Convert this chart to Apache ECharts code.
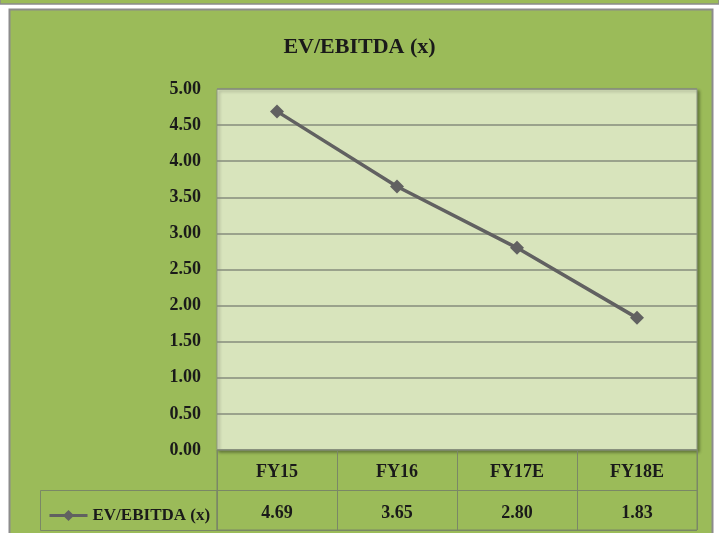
<!DOCTYPE html>
<html><head><meta charset="utf-8">
<script src="https://cdn.jsdelivr.net/npm/echarts@6/dist/echarts.min.js"></script>
<style>html,body{margin:0;padding:0;background:#fff}#c{width:719px;height:533px}</style>
</head><body><div id="c"></div>
<script>
const categories = ['FY15', 'FY16', 'FY17E', 'FY18E'];
const evEbitda = [4.69, 3.65, 2.80, 1.83];
const seriesName = 'EV/EBITDA (x)';
const chartTitle = 'EV/EBITDA (x)';

const FONT = '"Liberation Serif", "Times New Roman", serif';
const TXT = '#1a1a1a';
const LINEC = '#7a8766';
const chart = echarts.init(document.getElementById('c'));
chart.setOption({
  backgroundColor: '#ffffff',
  animation: false,
  graphic: [
    {type: 'rect', z: -10, shape: {x: 0, y: -6, width: 719, height: 10}, style: {fill: '#9bbb59', stroke: '#8c8c8c', lineWidth: 1.5}},
    {type: 'rect', z: -10, shape: {x: 9.5, y: 9.5, width: 703, height: 540}, style: {fill: '#9bbb59', stroke: '#8c8c8c', lineWidth: 2}},
    {type: 'rect', z: 5, shape: {x: 40.5, y: 490.5, width: 176.5, height: 40}, style: {fill: 'none', stroke: LINEC, lineWidth: 1}}
  ],
  title: {
    text: chartTitle, left: 'center', top: 31,
    textStyle: {fontFamily: FONT, fontWeight: 'bold', fontSize: 22, color: TXT}
  },
  legend: {
    left: 43, top: 502, itemWidth: 38, itemHeight: 14, itemGap: 4,
    textStyle: {fontFamily: FONT, fontWeight: 'bold', fontSize: 17, color: TXT},
    data: [{name: seriesName, lineStyle: {width: 3}}]
  },
  grid: [
    {left: 217, right: 22, top: 89, bottom: 83, show: true, backgroundColor: '#d8e4bc',
     borderColor: '#8f9686', borderWidth: 1,
     shadowColor: 'rgba(0,0,0,0.35)', shadowBlur: 3, shadowOffsetX: 2, shadowOffsetY: 2},
    {left: 217, right: 22, top: 450, height: 80, show: true, backgroundColor: 'transparent',
     borderColor: LINEC, borderWidth: 1}
  ],
  xAxis: [
    {type: 'category', gridIndex: 0, data: categories, boundaryGap: true,
     axisLine: {show: false}, axisTick: {show: false}, splitLine: {show: false},
     axisLabel: {margin: 13, fontFamily: FONT, fontWeight: 'bold', fontSize: 18, color: TXT}},
    {type: 'category', gridIndex: 0, data: evEbitda.map(v => v.toFixed(2)), position: 'bottom', offset: 40,
     axisLine: {show: false}, axisTick: {show: false}, splitLine: {show: false},
     axisLabel: {margin: 14, fontFamily: FONT, fontWeight: 'bold', fontSize: 18, color: TXT}},
    {type: 'category', gridIndex: 1, data: categories, boundaryGap: true,
     axisLine: {show: false}, axisTick: {show: false}, axisLabel: {show: false},
     splitLine: {show: true, lineStyle: {color: LINEC, width: 1}}}
  ],
  yAxis: [
    {type: 'value', gridIndex: 0, min: 0, max: 5, interval: 0.5,
     axisLine: {show: false}, axisTick: {show: false},
     splitLine: {show: true, lineStyle: {color: '#868c7c', width: 1.5}},
     axisLabel: {margin: 16, formatter: v => v.toFixed(2), fontFamily: FONT, fontWeight: 'bold', fontSize: 18, color: TXT}},
    {type: 'category', gridIndex: 1, data: ['r2', 'r1'], boundaryGap: true,
     axisLine: {show: false}, axisTick: {show: false}, axisLabel: {show: false},
     splitLine: {show: true, lineStyle: {color: LINEC, width: 1}}}
  ],
  series: [{
    name: seriesName, type: 'line', xAxisIndex: 0, yAxisIndex: 0, data: evEbitda,
    symbol: 'diamond', symbolSize: 14,
    lineStyle: {color: '#616161', width: 3.5},
    itemStyle: {color: '#616161'}
  }]
});
</script></body></html>
